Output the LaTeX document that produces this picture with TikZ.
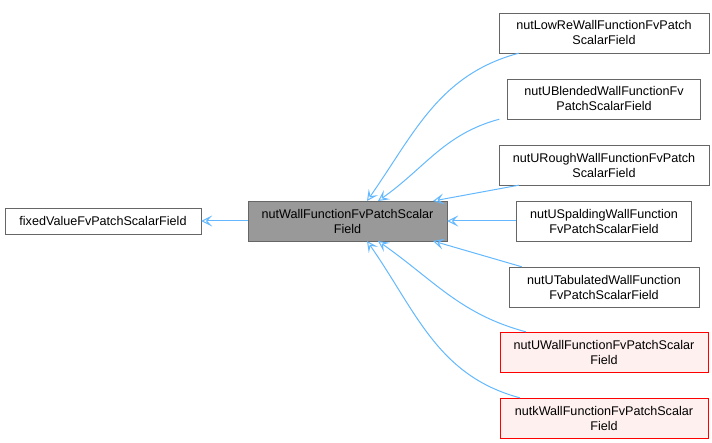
\documentclass[tikz,border=0pt]{standalone}
\usepackage{fontspec}
\setmainfont{Liberation Sans}
\definecolor{edgeblue}{HTML}{63B8FF}
\definecolor{redfill}{HTML}{FFF0F0}
\tikzset{
  cls/.style={draw=gray!80!black,fill=white,align=center,inner sep=2pt,
    font=\fontsize{12.6}{15}\selectfont,minimum height=40pt},
  inh/.style={draw=edgeblue,line width=1pt,-{Stealth[open,length=11pt,width=11pt,inset=5pt]}}
}
\usetikzlibrary{arrows.meta}
\begin{document}
\begin{tikzpicture}[x=1pt,y=-1pt]
\useasboundingbox (0,0) rectangle (712,443);
% base classes
\node[cls,minimum height=26pt,minimum width=196pt] (fixed) at (103,221) {fixedValueFvPatchScalarField};
\node[cls,fill=gray!80,minimum width=199pt] (wall) at (347.5,221) {nutWallFunctionFvPatchScalar\\Field};
% derived classes
\node[cls,minimum width=210pt] (lowre) at (604,33) {nutLowReWallFunctionFvPatch\\ScalarField};
\node[cls,minimum width=193pt] (ublend) at (604,99) {nutUBlendedWallFunctionFv\\PatchScalarField};
\node[cls,minimum width=210pt] (urough) at (604,165) {nutURoughWallFunctionFvPatch\\ScalarField};
\node[cls,minimum width=175pt] (uspald) at (604,221) {nutUSpaldingWallFunction\\FvPatchScalarField};
\node[cls,minimum width=190pt] (utab) at (604,287) {nutUTabulatedWallFunction\\FvPatchScalarField};
\node[cls,draw=red,fill=redfill,minimum width=208pt] (uwall) at (604,352) {nutUWallFunctionFvPatchScalar\\Field};
\node[cls,draw=red,fill=redfill,minimum width=208pt] (kwall) at (604,418) {nutkWallFunctionFvPatchScalar\\Field};
% inheritance
\draw[inh] (wall) -- (fixed);
\draw[inh] (lowre.south west) ++(20,0) to[out=195,in=55] (367,201);
\draw[inh] (ublend.south west) ++(-8,0) to[out=195,in=35] (378,201);
\draw[inh] (urough.south west) ++(20,0) -- (433,201);
\draw[inh] (uspald) -- (wall);
\draw[inh] (utab.north west) ++(13,0) -- (433,241);
\draw[inh] (uwall.north west) ++(26,0) to[out=165,in=-35] (378,241);
\draw[inh] (kwall.north west) ++(20,0) to[out=165,in=-55] (367,241);
\end{tikzpicture}
\end{document}
